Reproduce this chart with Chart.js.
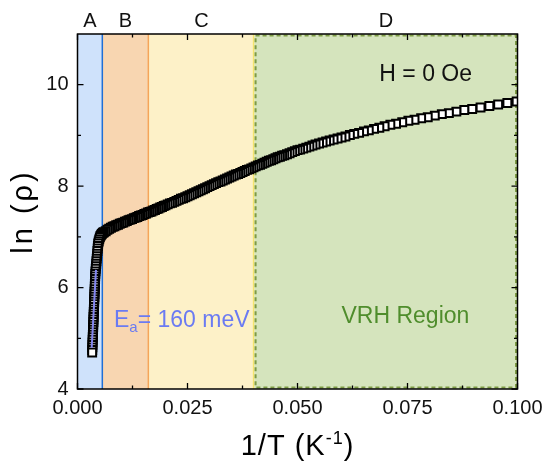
<!DOCTYPE html>
<html>
<head>
<meta charset="utf-8">
<script src="https://cdn.jsdelivr.net/npm/chart.js@4.4.1/dist/chart.umd.min.js"></script>
<style>
  html, body { margin: 0; padding: 0; background: #fff; }
  #wrap { width: 545px; height: 463px; }
</style>
</head>
<body>
<div id="wrap"><canvas id="rhoChart" width="545" height="463"></canvas></div>
<script>
// Data: 1/T (K^-1) and ln(rho)
const invT = [
  0.00333, 0.00335, 0.00338, 0.00340, 0.00342, 0.00345, 0.00347, 0.00349, 0.00351, 0.00354,
  0.00356, 0.00358, 0.00361, 0.00363, 0.00365, 0.00368, 0.00370, 0.00372, 0.00374, 0.00377,
  0.00379, 0.00381, 0.00384, 0.00386, 0.00388, 0.00391, 0.00393, 0.00395, 0.00398, 0.00400,
  0.00402, 0.00405, 0.00409, 0.00415, 0.00420, 0.00426, 0.00431, 0.00437, 0.00442, 0.00448,
  0.00453, 0.00459, 0.00464, 0.00470, 0.00482, 0.00494, 0.00508, 0.00522, 0.00538, 0.00556,
  0.00578, 0.00600,
  0.0064, 0.0068, 0.0072, 0.0076, 0.0080, 0.0084, 0.0088, 0.0092, 0.0096, 0.0100,
  0.0104, 0.0108, 0.0112, 0.0116, 0.0120, 0.0124, 0.0128, 0.0132, 0.0136, 0.0140,
  0.0144, 0.0148, 0.0152, 0.0156, 0.0160, 0.0164, 0.0168, 0.0172, 0.0176, 0.0180,
  0.0184, 0.0188, 0.0192, 0.0196, 0.0200,
  0.0205, 0.0210, 0.0215, 0.0220, 0.0225, 0.0230, 0.0235, 0.0240, 0.0245, 0.0250,
  0.0255, 0.0260, 0.0265, 0.0270, 0.0275, 0.0280, 0.0285, 0.0290, 0.0295, 0.0300,
  0.0305, 0.0310, 0.0315, 0.0320, 0.0325, 0.0330, 0.0335, 0.0340, 0.0345, 0.0350,
  0.0355, 0.0360, 0.0365, 0.0370, 0.0375, 0.0380, 0.0385, 0.0390, 0.0395,
  0.0400, 0.0405, 0.0410, 0.0415, 0.0420, 0.0425, 0.0430, 0.0435, 0.0440, 0.0445,
  0.0450, 0.0455, 0.0460, 0.0465, 0.0470, 0.0476, 0.0482, 0.0488, 0.0494, 0.0500,
  0.0506, 0.0513, 0.0520, 0.0527, 0.0534, 0.0541, 0.0549, 0.0557, 0.0565, 0.0573,
  0.0582, 0.0591, 0.0600, 0.0609, 0.0619, 0.0629, 0.0640, 0.0651, 0.0662, 0.0674,
  0.0686, 0.0698, 0.0711, 0.0724, 0.0738, 0.0752, 0.0766, 0.0781, 0.0796, 0.0812,
  0.0828, 0.0844, 0.0861, 0.0879, 0.0897, 0.0916, 0.0936, 0.0956, 0.0977, 0.0998
];
const lnRho = [
  4.72, 4.77, 4.82, 4.87, 4.92, 4.97, 5.02, 5.07, 5.12, 5.17,
  5.22, 5.27, 5.32, 5.37, 5.42, 5.47, 5.52, 5.57, 5.62, 5.67,
  5.72, 5.77, 5.82, 5.87, 5.92, 5.97, 6.02, 6.07, 6.12, 6.17,
  6.22, 6.27, 6.32, 6.37, 6.42, 6.47, 6.52, 6.57, 6.62, 6.67,
  6.72, 6.77, 6.82, 6.87, 6.91, 6.95, 6.99, 7.02, 7.04, 7.06,
  7.08, 7.09,
  7.11, 7.14, 7.16, 7.18, 7.20, 7.21, 7.23, 7.24, 7.26, 7.27,
  7.28, 7.30, 7.31, 7.33, 7.34, 7.35, 7.37, 7.38, 7.39, 7.41,
  7.42, 7.43, 7.45, 7.46, 7.48, 7.49, 7.50, 7.52, 7.53, 7.55,
  7.56, 7.58, 7.59, 7.61, 7.62,
  7.64, 7.66, 7.67, 7.69, 7.71, 7.73, 7.75, 7.76, 7.78, 7.80,
  7.82, 7.84, 7.86, 7.88, 7.90, 7.92, 7.94, 7.96, 7.98, 8.00,
  8.02, 8.04, 8.06, 8.08, 8.09, 8.11, 8.13, 8.15, 8.17, 8.19,
  8.21, 8.23, 8.24, 8.26, 8.28, 8.30, 8.32, 8.33, 8.35,
  8.37, 8.39, 8.41, 8.42, 8.44, 8.46, 8.48, 8.50, 8.51, 8.53,
  8.55, 8.57, 8.58, 8.60, 8.61, 8.63, 8.65, 8.67, 8.69, 8.71,
  8.72, 8.74, 8.76, 8.78, 8.80, 8.82, 8.84, 8.86, 8.88, 8.90,
  8.92, 8.94, 8.96, 8.98, 9.01, 9.03, 9.05, 9.08, 9.10, 9.13,
  9.15, 9.18, 9.21, 9.23, 9.26, 9.29, 9.31, 9.34, 9.36, 9.39,
  9.42, 9.44, 9.47, 9.50, 9.52, 9.55, 9.58, 9.61, 9.64, 9.67
];

// Activation-energy fit segment (E_a = 160 meV)
const fitX = [0.00322, 0.00420];
const fitY = [4.81, 6.35];

// Regions A-D along 1/T
const regionEdges = [0, 0.00564, 0.0161, 0.0402, 0.1];
const regionNames = ['A', 'B', 'C', 'D'];
const regionFills = ['#cfe2fb', '#f8d6b1', '#fdf1c8', '#d5e4bd'];
const regionLines = ['#1f6fd6', '#f5a55a', '#f3e46e', '#7e9b45'];

// Axis ticks
const xMajorTicks = [0, 0.025, 0.05, 0.075, 0.1];
const xMinorTicks = [0.0125, 0.0375, 0.0625, 0.0875];
const yMajorTicks = [4, 6, 8, 10];
const yMinorTicks = [5, 7, 9];

const FONT = 'Arial, "Liberation Sans", Helvetica, sans-serif';

const points = invT.map((v, i) => ({ x: v, y: lnRho[i] })).reverse(); // 300 K end drawn last
const fitLine = fitX.map((v, i) => ({ x: v, y: fitY[i] }));

function valX(chart, v) { return chart.scales.x.getPixelForValue(v); }
function valY(chart, v) { return chart.scales.y.getPixelForValue(v); }

const decorPlugin = {
  id: 'decor',
  beforeDatasetsDraw(chart) {
    const { ctx, chartArea: a } = chart;
    ctx.save();
    // region fills
    for (let i = 0; i < regionNames.length; i++) {
      const x0 = valX(chart, regionEdges[i]);
      const x1 = valX(chart, regionEdges[i + 1]);
      ctx.fillStyle = regionFills[i];
      ctx.fillRect(x0, a.top, x1 - x0, a.bottom - a.top);
    }
    // solid right borders for A, B, C
    ctx.lineWidth = 1.5;
    for (let i = 0; i < 3; i++) {
      const xe = valX(chart, regionEdges[i + 1]) - (i === 2 ? 0.8 : 0);
      ctx.strokeStyle = regionLines[i];
      ctx.beginPath();
      ctx.moveTo(xe, a.top);
      ctx.lineTo(xe, a.bottom);
      ctx.stroke();
    }
    // dashed box around D
    const dx0 = valX(chart, regionEdges[3]) + 1.2;
    const dx1 = valX(chart, regionEdges[4]) - 1.5;
    ctx.strokeStyle = regionLines[3];
    ctx.lineWidth = 2;
    ctx.setLineDash([4, 3]);
    ctx.strokeRect(dx0, a.top + 1.5, dx1 - dx0, a.bottom - a.top - 3);
    ctx.setLineDash([]);
    ctx.restore();
  },
  afterDatasetsDraw(chart) {
    const { ctx, chartArea: a } = chart;
    ctx.save();
    // frame
    ctx.strokeStyle = '#000';
    ctx.lineWidth = 1.5;
    ctx.strokeRect(a.left, a.top, a.right - a.left, a.bottom - a.top);

    // inward ticks on all four sides
    ctx.lineWidth = 1.3;
    ctx.beginPath();
    const xTick = (v, len) => {
      const px = valX(chart, v);
      ctx.moveTo(px, a.bottom); ctx.lineTo(px, a.bottom - len);
      ctx.moveTo(px, a.top); ctx.lineTo(px, a.top + len);
    };
    const yTick = (v, len) => {
      const py = valY(chart, v);
      ctx.moveTo(a.left, py); ctx.lineTo(a.left + len, py);
      ctx.moveTo(a.right, py); ctx.lineTo(a.right - len, py);
    };
    xMajorTicks.forEach(v => xTick(v, 6));
    xMinorTicks.forEach(v => xTick(v, 3.5));
    yMajorTicks.forEach(v => yTick(v, 6));
    yMinorTicks.forEach(v => yTick(v, 3.5));
    ctx.stroke();

    // region letters above the frame
    ctx.fillStyle = '#111';
    ctx.font = '20px ' + FONT;
    ctx.textAlign = 'center';
    ctx.textBaseline = 'alphabetic';
    for (let i = 0; i < regionNames.length; i++) {
      const cx = (valX(chart, regionEdges[i]) + valX(chart, regionEdges[i + 1])) / 2;
      ctx.fillText(regionNames[i], cx, a.top - 7);
    }

    // annotations
    ctx.textAlign = 'left';
    ctx.font = '23px ' + FONT;
    ctx.fillStyle = '#111';
    ctx.fillText('H = 0 Oe', valX(chart, 0.0686), valY(chart, 10.08));

    ctx.fillStyle = '#4f8d2c';
    ctx.fillText('VRH Region', valX(chart, 0.0600), valY(chart, 5.30));

    ctx.fillStyle = '#6b7bf2';
    let ex = valX(chart, 0.0083);
    const ey = valY(chart, 5.225);
    ctx.fillText('E', ex, ey);
    ex += ctx.measureText('E').width;
    ctx.font = '15px ' + FONT;
    ctx.fillText('a', ex, ey + 5);
    ex += ctx.measureText('a').width;
    ctx.font = '23px ' + FONT;
    ctx.fillText('= 160 meV', ex, ey);

    // axis titles
    ctx.fillStyle = '#000';
    ctx.letterSpacing = '1px';
    const big = '29px ' + FONT, sup = '18px ' + FONT;
    ctx.font = big;
    const p1 = '1/T (K', p3 = ')';
    const w1 = ctx.measureText(p1).width, w3 = ctx.measureText(p3).width;
    ctx.font = sup;
    const w2 = ctx.measureText('-1').width;
    let tx = (a.left + a.right) / 2 - (w1 + w2 + w3) / 2;
    const ty = a.bottom + 66;
    ctx.font = big;
    ctx.fillText(p1, tx, ty);
    tx += w1;
    ctx.font = sup;
    ctx.fillText('-1', tx, ty - 11);
    tx += w2;
    ctx.font = big;
    ctx.fillText(p3, tx, ty);

    ctx.letterSpacing = '3px';
    ctx.translate(24, (a.top + a.bottom) / 2);
    ctx.rotate(-Math.PI / 2);
    ctx.textAlign = 'center';
    ctx.textBaseline = 'middle';
    ctx.fillText('ln (\u03c1)', 0, 0);
    ctx.restore();
  }
};

new Chart(document.getElementById('rhoChart'), {
  type: 'scatter',
  data: {
    datasets: [
      {
        label: 'fit',
        data: fitLine,
        showLine: true,
        borderColor: '#8184ef',
        borderWidth: 2,
        pointRadius: 0,
        clip: 0
      },
      {
        label: 'ln rho',
        data: points,
        pointStyle: 'rect',
        pointRadius: 5.6,
        pointBackgroundColor: '#fff',
        pointBorderColor: '#000',
        pointBorderWidth: 2,
        clip: 0
      }
    ]
  },
  options: {
    responsive: false,
    animation: false,
    events: [],
    layout: { padding: { left: 0, right: 27.5, top: 34, bottom: 0 } },
    plugins: { legend: { display: false }, tooltip: { enabled: false } },
    scales: {
      x: {
        type: 'linear',
        min: 0,
        max: 0.1,
        grid: { display: false, drawTicks: false },
        border: { display: false },
        afterBuildTicks: s => { s.ticks = xMajorTicks.map(v => ({ value: v })); },
        ticks: {
          padding: 7,
          color: '#111',
          font: { family: FONT, size: 20 },
          callback: v => v.toFixed(3)
        },
        afterFit: s => { s.height = 74; s.paddingLeft = 0; s.paddingRight = 0; }
      },
      y: {
        type: 'linear',
        min: 4,
        max: 11,
        grid: { display: false, drawTicks: false },
        border: { display: false },
        afterBuildTicks: s => { s.ticks = yMajorTicks.map(v => ({ value: v })); },
        ticks: {
          padding: 9,
          color: '#111',
          font: { family: FONT, size: 20 }
        },
        afterFit: s => { s.width = 77.5; s.paddingTop = 0; s.paddingBottom = 0; }
      }
    }
  },
  plugins: [decorPlugin]
});
</script>
</body>
</html>
